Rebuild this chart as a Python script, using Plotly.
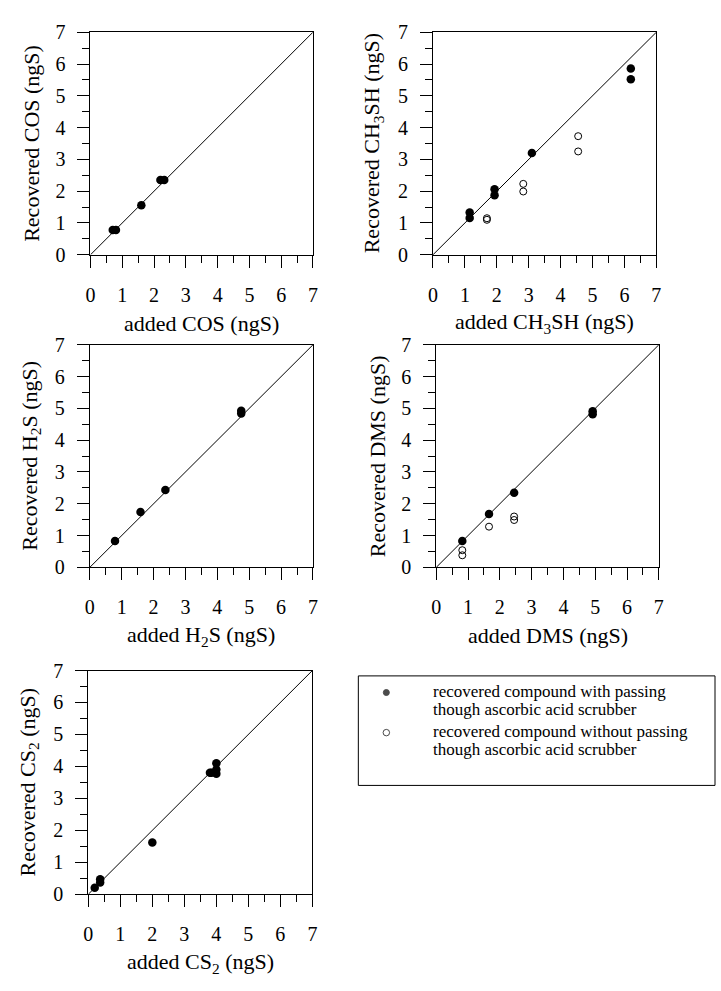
import plotly.graph_objects as go

W, H = 721, 991
FONT = "Liberation Serif"
AXIS_MAX = 7

# ---- data ----
cos_with_x = [0.70, 0.80, 1.60, 2.20, 2.32]
cos_with_y = [0.78, 0.78, 1.56, 2.35, 2.35]

ch3sh_with_x = [1.15, 1.15, 1.93, 1.93, 3.10, 6.20, 6.20]
ch3sh_with_y = [1.33, 1.16, 2.06, 1.87, 3.20, 5.86, 5.52]
ch3sh_without_x = [1.69, 1.69, 2.83, 2.83, 4.55, 4.55]
ch3sh_without_y = [1.15, 1.10, 2.23, 1.99, 3.73, 3.25]

h2s_with_x = [0.79, 1.59, 2.37, 4.75, 4.75]
h2s_with_y = [0.83, 1.74, 2.43, 4.93, 4.84]

dms_with_x = [0.82, 1.66, 2.45, 4.92, 4.92]
dms_with_y = [0.83, 1.68, 2.35, 4.91, 4.82]
dms_without_x = [0.82, 0.82, 1.66, 2.45, 2.45]
dms_without_y = [0.54, 0.38, 1.28, 1.60, 1.49]

cs2_with_x = [0.20, 0.37, 0.37, 2.00, 3.80, 3.85, 4.00, 4.00, 4.00]
cs2_with_y = [0.20, 0.47, 0.37, 1.62, 3.80, 3.80, 4.10, 3.90, 3.77]

tick_vals = [0, 1, 2, 3, 4, 5, 6, 7]
tick_text = ["0", "1", "2", "3", "4", "5", "6", "7"]

x_titles = ["added COS (ngS)", "added CH<sub>3</sub>SH (ngS)", "added H<sub>2</sub>S (ngS)",
            "added DMS (ngS)", "added CS<sub>2</sub> (ngS)"]
y_titles = ["Recovered COS (ngS)", "Recovered CH<sub>3</sub>SH (ngS)", "Recovered H<sub>2</sub>S (ngS)",
            "Recovered DMS (ngS)", "Recovered CS<sub>2</sub> (ngS)"]

legend_with = ["recovered compound with passing", "though ascorbic acid scrubber"]
legend_without = ["recovered compound without passing", "though ascorbic acid scrubber"]

# ---- layout (pixel boxes: left, right, top, bottom) ----
panels = [
    (86.7, 312.3, 21.7, 249.3),
    (434.0, 660.5, 21.7, 249.3),
    (86.0, 312.3, 341.4, 569.0),
    (437.3, 663.0, 341.4, 569.0),
    (84.5, 311.7, 674.5, 903.3),
]

series = [
    [(cos_with_x, cos_with_y, True)],
    [(ch3sh_with_x, ch3sh_with_y, True), (ch3sh_without_x, ch3sh_without_y, False)],
    [(h2s_with_x, h2s_with_y, True)],
    [(dms_with_x, dms_with_y, True), (dms_without_x, dms_without_y, False)],
    [(cs2_with_x, cs2_with_y, True)],
]

def px_x(v):
    return v / W

def px_y(v):
    return 1 - v / H

fig = go.Figure()
annotations = []

filled_marker = dict(symbol="circle", size=8.5, color="black", line=dict(width=0))
open_marker = dict(symbol="circle-open", size=7, color="black", line=dict(width=1, color="black"))

for i, (l, r, t, b) in enumerate(panels):
    k = i + 1
    xa = "x" if k == 1 else f"x{k}"
    ya = "y" if k == 1 else f"y{k}"
    # 1:1 line
    fig.add_trace(go.Scatter(x=[0, AXIS_MAX], y=[0, AXIS_MAX], mode="lines",
                             line=dict(color="black", width=1), xaxis=xa, yaxis=ya,
                             showlegend=False, hoverinfo="skip"))
    for sx, sy, filled in series[i]:
        fig.add_trace(go.Scatter(x=sx, y=sy, mode="markers",
                                 marker=filled_marker if filled else open_marker,
                                 xaxis=xa, yaxis=ya, showlegend=False,
                                 name="with scrubber" if filled else "without scrubber"))
    axis_common = dict(range=[0, AXIS_MAX], tickvals=tick_vals, ticktext=tick_text,
                       ticks="outside", ticklen=12, tickwidth=1, tickcolor="black",
                       showline=True, linecolor="black", linewidth=1, mirror=True,
                       showgrid=False, zeroline=False, fixedrange=True,
                       tickfont=dict(family=FONT, size=20, color="black"),
                       minor=dict(dtick=0.5, tick0=0, ticks="outside", ticklen=7,
                                  tickwidth=1, tickcolor="black", showgrid=False))
    fig.update_layout(**{
        ("xaxis" if k == 1 else f"xaxis{k}"): dict(domain=[px_x(l), px_x(r)], anchor=ya,
                                                    ticklabelstandoff=10, **axis_common),
        ("yaxis" if k == 1 else f"yaxis{k}"): dict(domain=[px_y(b), px_y(t)], anchor=xa,
                                                    ticklabelstandoff=8, **axis_common),
    })
    cx = (l + r) / 2
    cy = (t + b) / 2
    annotations.append(dict(text=x_titles[i], x=px_x(cx), y=px_y(b + 70), xref="paper", yref="paper",
                            xanchor="center", yanchor="middle", showarrow=False,
                            font=dict(family=FONT, size=22, color="black")))
    annotations.append(dict(text=y_titles[i], x=px_x(l - 60), y=px_y(cy), xref="paper", yref="paper",
                            xanchor="center", yanchor="middle", showarrow=False, textangle=-90,
                            font=dict(family=FONT, size=22, color="black")))

# ---- legend box ----
LB = dict(l=358.3, r=720.0, t=680.0, b=792.0)
fig.add_shape(type="rect", xref="paper", yref="paper",
              x0=px_x(LB["l"]), x1=px_x(LB["r"]), y0=px_y(LB["b"]), y1=px_y(LB["t"]),
              line=dict(color="black", width=1), fillcolor="rgba(0,0,0,0)")

line_y = [697, 716, 738, 757]
legend_lines = legend_with + legend_without
for yy, txt in zip(line_y, legend_lines):
    annotations.append(dict(text=txt, x=px_x(432), y=px_y(yy - 1.5), xref="paper", yref="paper",
                            xanchor="left", yanchor="middle", showarrow=False,
                            font=dict(family=FONT, size=17, color="black")))

# legend symbols drawn in a hidden helper subplot spanning the legend box
fig.add_trace(go.Scatter(x=[386.7, 386.7], y=[line_y[0], line_y[2]], mode="markers",
                         marker=dict(symbol=["circle", "circle-open"], size=[6, 6.5], color="black",
                                     line=dict(width=1, color="black")),
                         xaxis="x6", yaxis="y6", showlegend=False, hoverinfo="skip"))
fig.update_layout(
    xaxis6=dict(domain=[px_x(LB["l"]), px_x(LB["r"])], range=[LB["l"], LB["r"]], visible=False,
                anchor="y6", fixedrange=True),
    yaxis6=dict(domain=[px_y(LB["b"]), px_y(LB["t"])], range=[LB["b"], LB["t"]], visible=False,
                anchor="x6", fixedrange=True),
)

fig.update_layout(width=W, height=H, margin=dict(l=0, r=0, t=0, b=0),
                  paper_bgcolor="white", plot_bgcolor="white", showlegend=False,
                  annotations=annotations, font=dict(family=FONT, color="black"))

fig.write_html("out.html", config={"displayModeBar": False},
               post_script="document.body.style.margin='0';document.body.style.padding='0';"
                           "document.documentElement.style.overflow='hidden';")
